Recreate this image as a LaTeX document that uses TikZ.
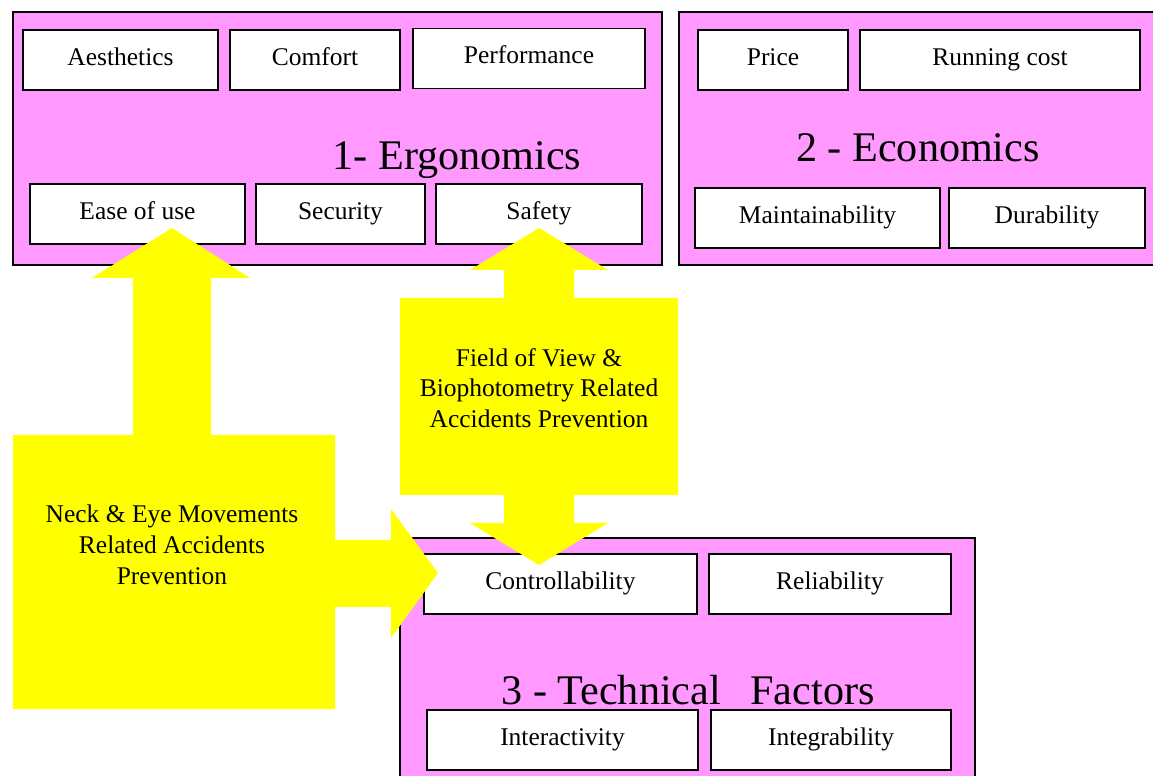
\documentclass[tikz,border=0pt]{standalone}
\usepackage{fontspec}
\setmainfont{Liberation Serif}
\usetikzlibrary{positioning}
\definecolor{boxpink}{HTML}{FF99FF}
\definecolor{arrowyellow}{HTML}{FFFF00}
\tikzset{
  group/.style={draw, fill=boxpink, line width=1pt},
  item/.style={draw, fill=white, line width=1pt, minimum height=1.2cm, inner sep=0pt,
    text height=2.2ex, text depth=0.9ex, font=\fontsize{14.5}{17}\selectfont},
  title/.style={font=\fontsize{24}{28}\selectfont},
  note/.style={align=center, font=\fontsize{14.5}{17.5}\selectfont},
  bigarrow/.style={fill=arrowyellow}
}
\begin{document}
\begin{tikzpicture}[x=0.02cm, y=-0.02cm]
\useasboundingbox (0,0) rectangle (1153,776);

% Groups
\draw[group] (13,12) rectangle (662,265);
\draw[group] (679,12) rectangle (1200,265);
\draw[group] (400,538) rectangle (975,800);

% 1- Ergonomics
\node[item, minimum width=3.9cm] (aesthetics) at (120.5,60) {Aesthetics};
\node[item, minimum width=3.4cm] (comfort) at (315,60) {Comfort};
\node[item, minimum width=4.64cm] (performance) at (529,58.5) {Performance};
\node[title] (ergonomics) at (457,160) {1- Ergonomics};
\node[item, minimum width=4.3cm] (ease) at (137.5,214) {Ease of use};
\node[item, minimum width=3.38cm] (security) at (340.5,214) {Security};
\node[item, minimum width=4.12cm] (safety) at (539,214) {Safety};

% 2 - Economics
\node[item, minimum width=3.0cm] (price) at (773,60) {Price};
\node[item, minimum width=5.6cm] (running) at (1000,60) {Running cost};
\node[title] (economics) at (918,148) {2 - Economics};
\node[item, minimum width=4.9cm] (maintain) at (817.5,218) {Maintainability};
\node[item, minimum width=3.92cm] (durability) at (1047,218) {Durability};

% 3 - Technical Factors
\node[item, minimum width=5.46cm] (control) at (560.5,584) {Controllability};
\node[item, minimum width=4.84cm] (reliability) at (830,584) {Reliability};
\node[title] (technical) at (688,690) {3 - Technical\hspace{0.45em} Factors};
\node[item, minimum width=5.42cm] (interact) at (562.5,740) {Interactivity};
\node[item, minimum width=4.8cm] (integrate) at (831,740) {Integrability};

% Yellow arrows
\fill[bigarrow] (13,435) -- (133,435) -- (133,278) -- (92,278) -- (172,228) -- (250,278)
  -- (211,278) -- (211,435) -- (335,435) -- (335,540) -- (391,540) -- (391,509)
  -- (438,573) -- (391,638) -- (391,607) -- (335,607) -- (335,709) -- (13,709) -- cycle;
\fill[bigarrow] (400,298) -- (504,298) -- (504,270) -- (470,270) -- (539,228) -- (608,270)
  -- (574,270) -- (574,298) -- (678,298) -- (678,495) -- (574,495) -- (574,523)
  -- (608,523) -- (539,565) -- (470,523) -- (504,523) -- (504,495) -- (400,495) -- cycle;

\node[note] (neck) at (172,545) {Neck \& Eye Movements\\Related Accidents\\Prevention};
\node[note] (field) at (539,388) {Field of View \&\\Biophotometry Related\\Accidents Prevention};
\end{tikzpicture}
\end{document}
